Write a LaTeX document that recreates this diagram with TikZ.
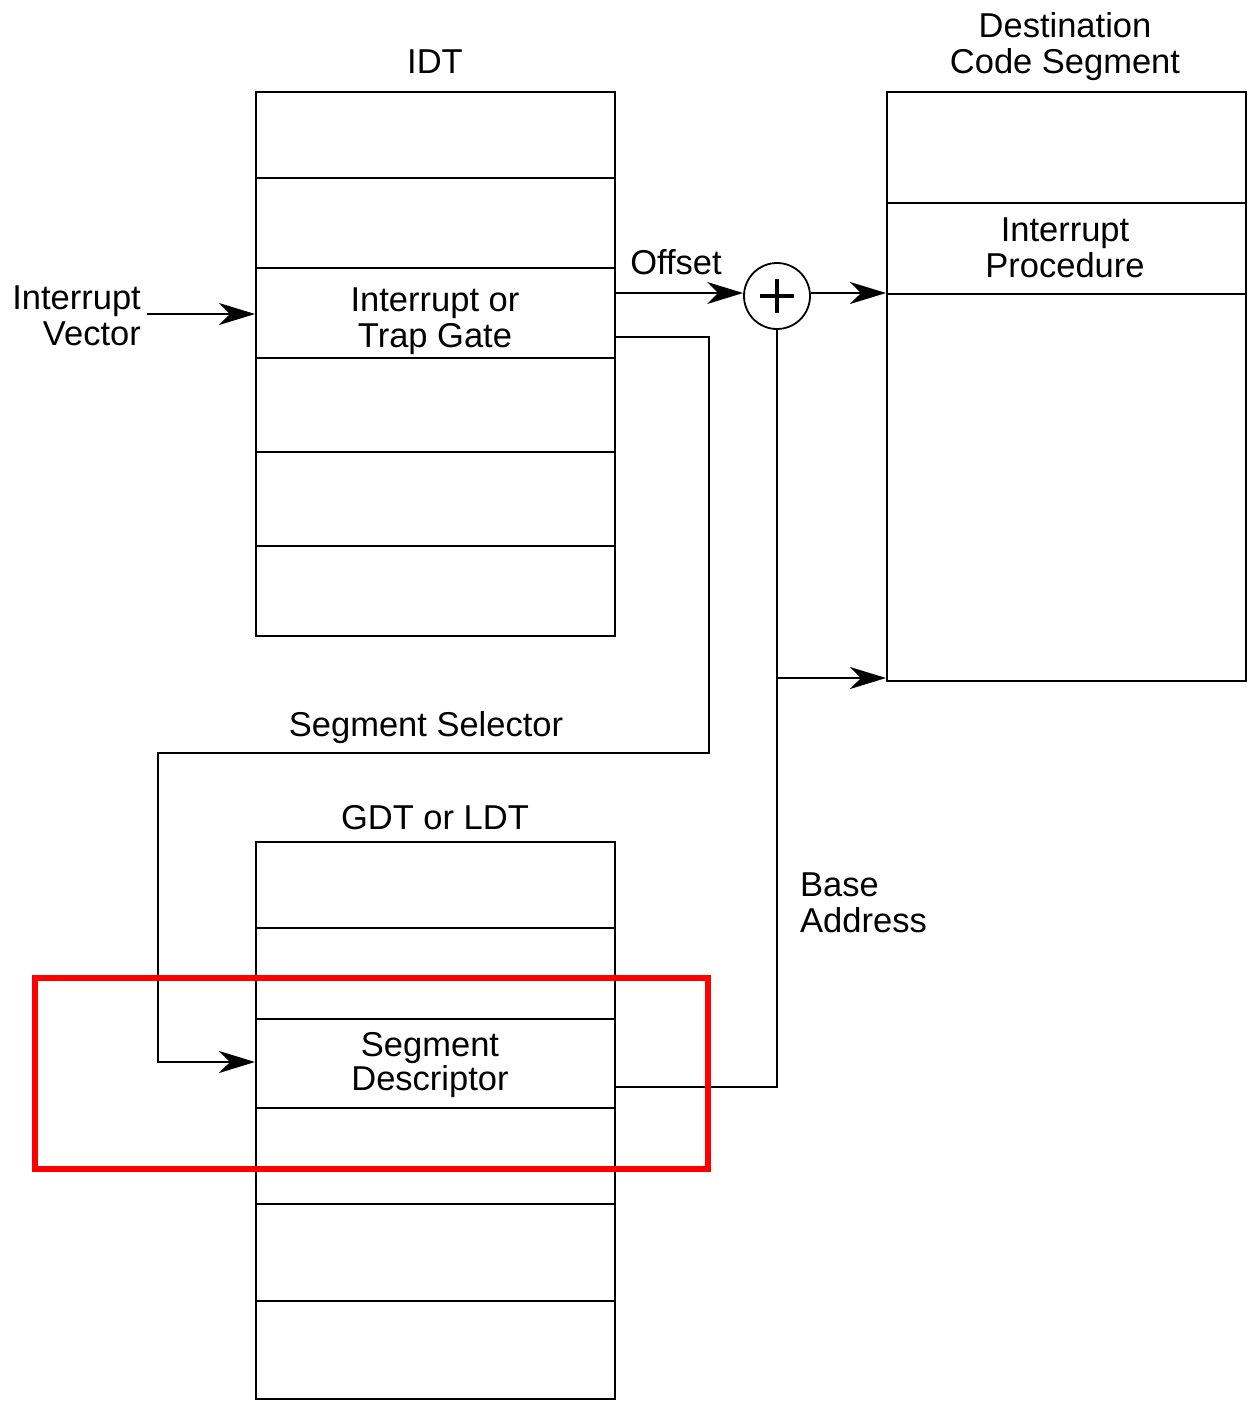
\documentclass[tikz,border=0pt]{standalone}
\usepackage{fontspec}
\setmainfont{Liberation Sans}
\usetikzlibrary{arrows.meta,calc}
\begin{document}
\begin{tikzpicture}[x=1pt,y=-1pt,
  every node/.style={font=\fontsize{34.5}{36}\selectfont},
  cell/.style={draw,line width=1.8pt,anchor=north west,inner sep=0pt,minimum width=359pt},
  lbl/.style={align=center,inner sep=0pt},
  wire/.style={line width=1.8pt},
  arr/.style={line width=1.8pt,-{Stealth[length=36pt,width=22pt,inset=11pt]}},
  hilite/.style={draw=red,line width=6pt}]
\useasboundingbox (0,0) rectangle (1250,1406);
% IDT
\node[cell,minimum height=86pt] (i1) at (255,91) {};
\node[cell,minimum height=90pt] (i2) at (255,177) {};
\node[cell,minimum height=90pt] (gate) at (255,267) {};
\node[cell,minimum height=94pt] (i4) at (255,357) {};
\node[cell,minimum height=94pt] (i5) at (255,451) {};
\node[cell,minimum height=90pt] (i6) at (255,545) {};
\node[lbl] (gatet) at (435,321) {Interrupt or\\Trap Gate};
\node[lbl] (idtl) at (435,62) {IDT};
% GDT
\node[cell,minimum height=86pt] (g1) at (255,841) {};
\node[cell,minimum height=91pt] (g2) at (255,927) {};
\node[cell,minimum height=89pt] (desc) at (255,1018) {};
\node[cell,minimum height=96pt] (g4) at (255,1107) {};
\node[cell,minimum height=97pt] (g5) at (255,1203) {};
\node[cell,minimum height=98pt] (g6) at (255,1300) {};
\node[lbl,font=\fontsize{34.5}{34}\selectfont] (desct) at (430,1065) {Segment\\Descriptor};
\node[lbl] (gdtl) at (435,818) {GDT or LDT};
% Destination
\node[cell,minimum height=111pt] (d1) at (886,91) {};
\node[cell,minimum height=91pt] (proc) at (886,202) {};
\node[cell,minimum height=387pt] (d3) at (886,293) {};
\node[lbl] (proct) at (1065,248) {Interrupt\\Procedure};
\node[lbl] (destl) at (1065,47) {Destination\\Code Segment};
% labels
\node[align=right,inner sep=0pt,anchor=east] (iv) at (141,316) {Interrupt\\Vector};
\node[lbl] (offl) at (676,262) {Offset};
\node[lbl] (sell) at (426,728) {Segment Selector};
\node[align=left,inner sep=0pt,anchor=west] (basel) at (800,903) {Base\\Address};
% adder
\node[circle,draw,line width=1.8pt,minimum size=66pt,inner sep=0pt] (plus) at (777,296) {};
\draw[line width=4.5pt] ($(plus.center)+(-17,0)$) -- ($(plus.center)+(17,0)$)
  ($(plus.center)+(0,-17)$) -- ($(plus.center)+(0,17)$);
% connectors
\coordinate (s1) at (709,337);
\coordinate (s2) at (709,753);
\coordinate (s3) at (158,753);
\coordinate (b1) at (777,1087);
\coordinate (b2) at (777,678);
\coordinate (iva) at (147,314);
\coordinate (oy) at (0,293);
\coordinate (sy) at (0,1062);
\draw[arr] (iva) -- (gate.west |- iva);
\draw[arr] (gate.east |- oy) -- (plus.west |- oy);
\draw[arr] (plus.east |- oy) -- (proc.west |- oy);
\draw[arr] (gate.east |- s1) -- (s1) -- (s2) -- (s3) -- (s3 |- sy) -- (desc.west |- sy);
\draw[wire] (desc.east |- b1) -- (b1) -- (plus.south);
\draw[arr] (b2) -- (d3.west |- b2);
% highlight
\draw[hilite] (35,978) rectangle (708,1169);
\end{tikzpicture}
\end{document}
